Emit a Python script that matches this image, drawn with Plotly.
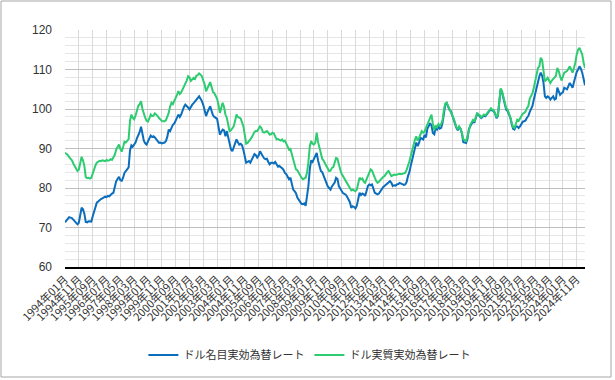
import plotly.graph_objects as go

start_year = 1994
n_points = 377  # 1994-01 .. 2025-05

nominal = [
    # 1994
    71.3, 71.8, 72.3, 72.6, 72.5, 72.4, 72.0, 71.5, 71.2, 70.8, 71.2, 73.0,
    # 1995
    75.0, 74.6, 73.5, 71.4, 71.3, 71.6, 71.5, 71.5, 72.8, 74.1, 75.2, 76.3,
    # 1996
    76.6, 77.0, 77.2, 77.4, 77.6, 77.8, 77.7, 78.0, 77.9, 78.3, 78.6, 78.8,
    # 1997
    80.2, 81.7, 82.3, 82.8, 82.0, 81.8, 82.6, 83.8, 84.3, 84.8, 85.2, 89.5,
    # 1998
    90.8, 90.5, 90.9, 91.5, 92.6, 93.4, 94.2, 95.5, 93.2, 92.0, 91.3, 91.0,
    # 1999
    91.8, 92.7, 93.3, 92.9, 93.1, 92.8, 92.4, 92.0, 91.4, 91.5, 91.3, 91.4,
    # 2000
    91.5, 91.9, 93.0, 94.8, 94.4, 95.2, 96.0, 96.3, 96.9, 97.8, 98.6, 98.0,
    # 2001
    98.6, 99.9, 100.5, 101.1, 100.8, 100.4, 99.9, 100.6, 101.1, 101.5, 102.0, 102.4,
    # 2002
    102.8, 103.2, 102.6, 102.0, 101.0, 99.9, 98.2, 99.2, 100.0, 100.7, 99.5, 98.4,
    # 2003
    98.0, 97.8, 97.5, 95.5, 93.5, 94.2, 94.8, 94.6, 93.1, 94.4, 93.0, 91.4,
    # 2004
    89.8, 89.3, 90.5, 91.5, 92.3, 91.6, 91.0, 91.2, 90.8, 89.6, 87.6, 86.4,
    # 2005
    86.6, 86.8, 86.4, 87.3, 88.1, 88.6, 88.3, 87.7, 88.2, 89.3, 88.7, 88.1,
    # 2006
    87.5, 87.3, 87.4, 86.6, 86.0, 86.4, 86.4, 86.2, 86.6, 86.0, 85.4, 85.6,
    # 2007
    85.4, 85.0, 84.6, 83.8, 83.5, 83.0, 82.2, 82.6, 81.2, 79.6, 79.2, 78.7,
    # 2008
    77.6, 77.0, 76.3, 76.0, 75.9, 76.1, 75.5, 77.6, 80.5, 84.8, 87.0, 86.6,
    # 2009
    87.4, 88.2, 88.9, 86.9, 85.5, 84.3, 84.0, 83.0, 82.2, 81.0, 80.4, 80.0,
    # 2010
    79.6, 80.4, 80.9, 81.4, 82.6, 82.3, 80.5, 79.8, 79.0, 78.7, 78.5, 78.3,
    # 2011
    77.8, 77.1, 76.4, 75.0, 75.4, 75.2, 74.8, 75.5, 77.5, 78.8, 78.2, 78.6,
    # 2012
    78.4, 78.0, 79.2, 80.5, 80.9, 80.7, 80.9, 79.8, 78.8, 78.6, 78.4, 78.6,
    # 2013
    79.2, 79.6, 80.2, 80.5, 80.8, 80.9, 81.2, 81.7, 81.3, 80.5, 80.7, 80.6,
    # 2014
    80.9, 81.0, 81.3, 81.1, 80.9, 80.8, 80.9, 81.5, 83.0, 84.0, 85.6, 87.2,
    # 2015
    88.8, 90.2, 91.5, 90.6, 91.4, 92.7, 92.5, 92.3, 93.5, 92.8, 95.0, 95.6,
    # 2016
    96.4, 95.8, 93.9, 93.6, 95.2, 94.8, 95.6, 95.0, 95.2, 96.6, 99.5, 101.1,
    # 2017
    101.5, 100.6, 99.8, 99.5, 98.6, 97.4, 96.3, 95.2, 94.6, 95.4, 95.0, 93.8,
    # 2018
    91.6, 91.5, 91.4, 92.4, 94.8, 95.6, 96.3, 96.9, 96.5, 97.7, 98.8, 98.5,
    # 2019
    98.2, 97.7, 98.0, 98.4, 98.2, 98.6, 99.0, 99.5, 100.0, 99.6, 99.5, 98.8,
    # 2020
    97.7, 98.2, 102.4, 105.0, 104.2, 102.8, 101.2, 99.8, 99.5, 98.6, 97.8, 96.2,
    # 2021
    95.0, 94.8, 95.6, 95.6, 95.2, 95.6, 96.4, 96.8, 96.9, 97.1, 97.8, 98.2,
    # 2022
    99.2, 99.9, 100.8, 102.4, 103.8, 105.8, 106.6, 108.3, 109.2, 108.4, 106.6, 103.2,
    # 2023
    102.8, 103.2, 102.9, 102.4, 102.8, 103.2, 102.4, 102.6, 105.4, 104.6, 103.6, 104.0,
    # 2024
    104.2, 105.4, 105.2, 105.0, 105.8, 106.6, 106.0, 105.4, 106.8, 108.3, 109.4, 110.0,
    # 2025
    110.8, 110.2, 109.2, 107.6, 106.0,
]

real = [
    # 1994
    88.9, 88.6, 88.4, 87.8, 87.5, 87.0, 86.2, 85.5, 84.8, 84.3, 84.6, 86.4,
    # 1995
    87.9, 87.0, 85.6, 82.8, 82.5, 82.6, 82.4, 82.6, 83.8, 85.0, 85.7, 86.4,
    # 1996
    86.6, 86.9, 86.8, 87.0, 86.9, 86.8, 87.1, 86.9, 87.0, 87.3, 87.1, 87.8,
    # 1997
    88.4, 89.7, 90.6, 91.0, 89.9, 89.2, 90.4, 91.7, 91.5, 92.1, 92.4, 97.0,
    # 1998
    98.6, 97.8, 97.4, 98.3, 99.6, 100.8, 101.2, 102.0, 100.0, 98.6, 97.8, 97.0,
    # 1999
    96.8, 97.6, 98.6, 98.2, 98.3, 98.9, 98.6, 98.2, 97.7, 97.2, 97.0, 96.9,
    # 2000
    96.9, 97.2, 98.0, 99.0, 100.6, 101.6, 101.2, 102.0, 102.4, 103.6, 104.5, 103.8,
    # 2001
    104.2, 104.9, 105.6, 106.6, 107.2, 108.3, 108.0, 107.1, 107.4, 107.9, 107.6, 108.4,
    # 2002
    108.6, 109.0, 108.7, 108.3, 107.2, 106.2, 104.5, 105.4, 106.2, 106.8, 105.6, 104.3,
    # 2003
    104.0, 103.2, 102.6, 101.0, 99.0, 100.3, 101.6, 100.5, 98.6, 97.8, 96.0, 94.4,
    # 2004
    94.6, 95.2, 95.6, 97.0, 98.6, 98.0, 97.8, 97.6, 96.6, 95.6, 93.4, 91.2,
    # 2005
    91.4, 92.0, 92.3, 92.8, 93.5, 94.2, 94.4, 94.4, 95.0, 95.6, 95.2, 94.2,
    # 2006
    94.0, 94.3, 94.4, 94.0, 93.5, 93.6, 94.0, 93.8, 93.2, 92.3, 92.4, 92.2,
    # 2007
    92.0, 92.3, 91.8, 92.0, 91.2, 90.8, 89.7, 89.9, 88.7, 87.2, 85.8, 84.7,
    # 2008
    84.5, 83.9, 83.0, 82.6, 82.2, 82.4, 82.6, 83.9, 86.5, 90.6, 91.9, 91.2,
    # 2009
    91.0, 91.5, 94.0, 91.6, 90.2, 88.8, 87.4, 86.9, 86.2, 85.5, 84.9, 84.3,
    # 2010
    84.4, 85.1, 85.3, 86.4, 87.6, 87.4, 85.6, 84.7, 83.6, 83.0, 82.6, 82.0,
    # 2011
    81.3, 80.6, 80.0, 79.4, 79.6, 79.3, 79.2, 79.6, 81.0, 82.6, 82.2, 82.4,
    # 2012
    81.6, 81.3, 82.2, 83.0, 84.0, 84.7, 84.4, 83.2, 82.6, 81.8, 81.3, 81.6,
    # 2013
    82.0, 82.6, 82.8, 83.0, 83.6, 84.0, 84.3, 83.5, 83.0, 83.2, 83.4, 83.3,
    # 2014
    83.4, 83.4, 83.6, 83.5, 83.6, 83.8, 83.8, 84.6, 85.5, 86.7, 88.1, 89.6,
    # 2015
    91.4, 92.2, 93.1, 92.0, 92.7, 93.6, 94.4, 94.0, 94.2, 95.2, 96.0, 97.0,
    # 2016
    98.0, 98.6, 96.2, 94.6, 95.8, 95.4, 96.2, 95.8, 96.2, 97.2, 99.8, 101.4,
    # 2017
    101.6, 100.8, 100.0, 99.6, 98.8, 97.6, 96.6, 95.4, 95.0, 95.6, 95.0, 94.0,
    # 2018
    92.3, 92.0, 91.9, 93.0, 95.0, 96.0, 96.6, 97.2, 96.8, 97.9, 99.0, 98.6,
    # 2019
    98.4, 97.9, 98.3, 98.6, 98.4, 98.9, 99.3, 99.8, 100.2, 99.8, 99.7, 98.9,
    # 2020
    97.9, 98.4, 102.6, 105.2, 104.5, 103.0, 101.5, 100.2, 99.9, 99.0, 97.9, 96.6,
    # 2021
    95.4, 95.2, 96.6, 97.3, 97.0, 97.6, 98.2, 98.8, 99.0, 99.4, 100.2, 100.7,
    # 2022
    102.6, 103.2, 104.0, 105.4, 107.0, 108.3, 110.4, 110.8, 113.0, 112.4, 110.0, 107.0,
    # 2023
    107.4, 107.9, 107.2, 106.6, 107.2, 107.6, 107.9, 108.4, 110.4, 109.6, 108.3, 107.2,
    # 2024
    108.2, 109.2, 109.4, 109.6, 110.2, 110.8, 110.0, 109.2, 110.4, 111.7, 113.8, 115.0,
    # 2025
    115.5, 114.6, 113.8, 111.7, 110.4,
]

months = [f"{start_year + i // 12}年{i % 12 + 1:02d}月" for i in range(n_points)]
tick_labels = months[::10]

series_names = ["ドル名目実効為替レート", "ドル実質実効為替レート"]
series_colors = ["#0a6ebd", "#2ecc71"]

font_family = "Liberation Sans, Arial, Noto Sans CJK JP, sans-serif"

fig = go.Figure()
fig.add_trace(go.Scatter(x=months, y=nominal[:n_points], mode="lines", name=series_names[0],
                         line=dict(color=series_colors[0], width=2)))
fig.add_trace(go.Scatter(x=months, y=real[:n_points], mode="lines", name=series_names[1],
                         line=dict(color=series_colors[1], width=2)))

fig.update_layout(
    width=615, height=380,
    margin=dict(l=65, r=30, t=30, b=113, autoexpand=False),
    paper_bgcolor="white", plot_bgcolor="white",
    font=dict(family=font_family, size=12, color="#333333"),
    showlegend=True,
    legend=dict(orientation="h", x=0.47, xanchor="center", y=-0.31, yanchor="top",
                font=dict(family="Noto Sans CJK JP, sans-serif", size=11, color="#333333"),
                itemwidth=30),
    xaxis=dict(type="category", range=[0, n_points - 1], automargin=False,
               tickmode="array", tickvals=tick_labels, ticktext=tick_labels,
               tickangle=-45, tickfont=dict(size=11, family="Noto Sans CJK JP, sans-serif", color="#333333"),
               showgrid=True, gridcolor="#d9d9d9", gridwidth=1,
               showline=True, linecolor="#000000", linewidth=1.5, ticks="", zeroline=False),
    yaxis=dict(range=[60, 120], dtick=10, tick0=60, showgrid=True, gridcolor="#bfbfbf", gridwidth=1,
               automargin=False,
               minor=dict(dtick=2, showgrid=True, gridcolor="#e6e6e6", gridwidth=1),
               tickfont=dict(size=12, color="#333333"), ticks="", zeroline=False, showline=False,
               ticklabelstandoff=12),
    shapes=[dict(type="rect", xref="paper", yref="paper",
                 x0=(1 - 65) / 520, x1=(611 - 65) / 520,
                 y0=-(377 - 267) / 237, y1=1 + 29 / 237,
                 line=dict(color="#a6a6a6", width=1), layer="above")],
)

fig.write_html("out.html", config={"displayModeBar": False},
               post_script="document.body.style.margin='0';document.body.style.overflow='hidden';")
